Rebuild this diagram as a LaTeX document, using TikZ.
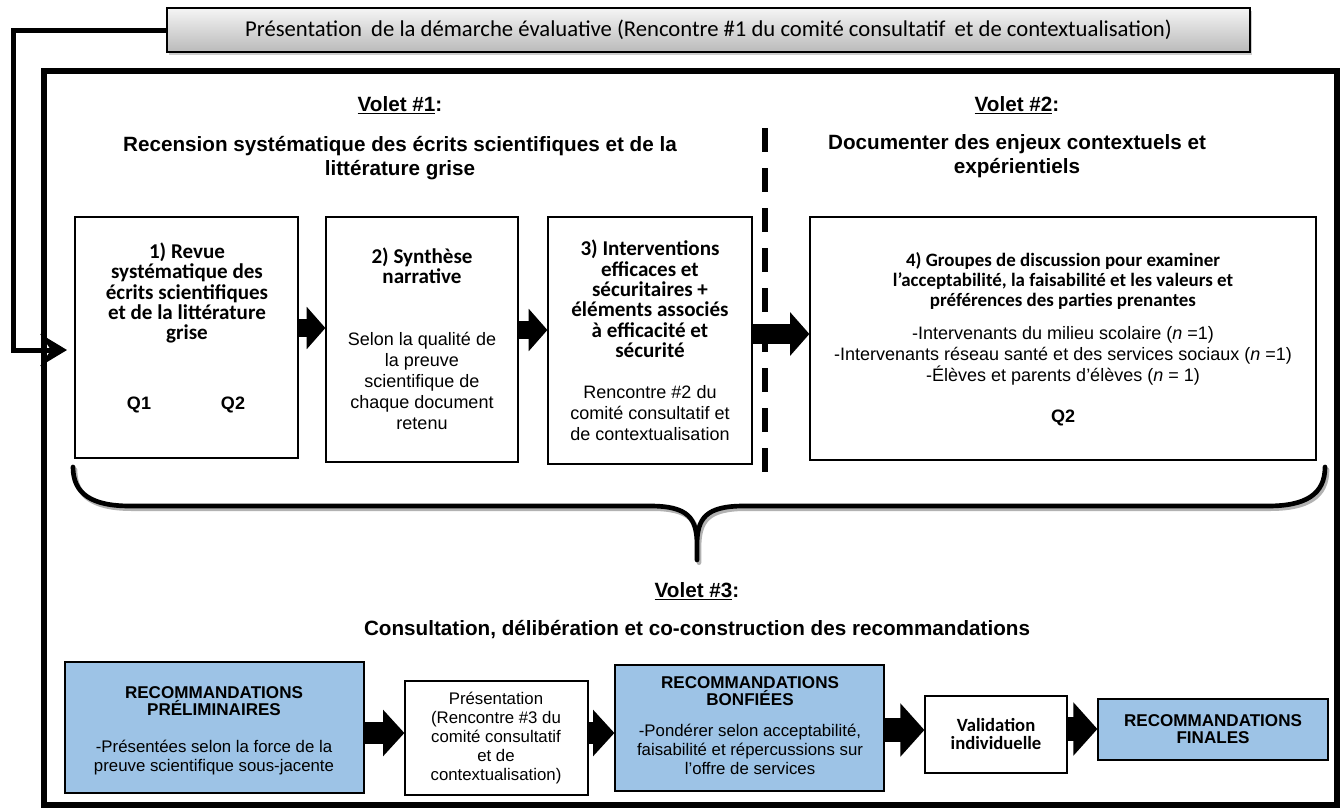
\documentclass[tikz,border=0pt]{standalone}
\usepackage{fontspec}
\setmainfont{Liberation Sans}
\newfontfamily\calfnt{Carlito}
\usetikzlibrary{arrows.meta,shadows,fit}
\definecolor{recblue}{RGB}{157,195,230}
\begin{document}
\begin{tikzpicture}[x=0.75pt,y=-0.75pt,
  box/.style={draw, line width=0.9pt, fill=white, inner sep=0pt, drop shadow={shadow xshift=1pt, shadow yshift=-1pt, opacity=0.35}},
  bluebox/.style={box, fill=recblue},
  topbar/.style={draw, line width=0.9pt, inner sep=0pt, top color=black!4, bottom color=black!27, drop shadow={shadow xshift=1.5pt, shadow yshift=-2pt, opacity=0.4}},
  head/.style={align=center, inner sep=0pt, font=\bfseries\fontsize{15.5}{18}\selectfont},
  bt/.style={align=center, inner sep=0pt, font=\fontsize{13.5}{15.6}\selectfont},
  btb/.style={align=center, inner sep=0pt, font=\bfseries\fontsize{13.5}{15.2}\selectfont},
  calb/.style={align=center, inner sep=0pt, font=\calfnt\bfseries\fontsize{15.8}{15.3}\selectfont},
  calm/.style={align=center, inner sep=0pt, font=\calfnt\bfseries\fontsize{14.2}{15}\selectfont},
  calv/.style={align=center, inner sep=0pt, font=\calfnt\bfseries\fontsize{14}{13.5}\selectfont},
  st/.style={align=center, inner sep=0pt, font=\fontsize{12.6}{14.3}\selectfont},
  stb/.style={align=center, inner sep=0pt, font=\bfseries\fontsize{12.8}{13.3}\selectfont},
  barrs/.style={line width=14pt, -{Triangle[length=14pt,width=31pt]}},
  barrm/.style={line width=14.5pt, -{Triangle[length=14.5pt,width=32pt]}},
  barrk/.style={line width=17pt, -{Triangle[length=16pt,width=34pt]}},
  barrl/.style={line width=18pt, -{Triangle[length=18pt,width=39pt]}},
  conn/.style={line width=3.75pt, -{Stealth[length=20pt,width=24pt,inset=8pt]}},
  bracestyle/.style={line width=3.5pt, line cap=round}
]
\useasboundingbox (0,0) rectangle (1341,810);

% top bar
\node[topbar, fit={(167,8)(1250,52)}] (top) {};
\node[inner sep=0pt, font=\calfnt\fontsize{17}{20}\selectfont] (toptxt) at (top.center)
  {Présentation\hspace{3pt} de la démarche évaluative (Rencontre \#1 du comité consultatif\hspace{3pt} et de contextualisation)};

% outer frame
\node[draw, line width=4.5pt, inner sep=0pt, fit={(44,71)(1337,805)}] (frame) {};

% connector from top bar
\coordinate (lc) at (13,350);
\coordinate (in1) at (67,350);
\draw[conn] (top.west) -| (lc) -- (in1);

% headings
\node[head] (v1) at (400,105) {\underline{Volet \#1}:};
\node[head] (v1s) at (400,158) {Recension systématique des écrits scientifiques et de la\\littérature grise};
\node[head] (v2) at (1017,105) {\underline{Volet \#2}:};
\node[head] (v2s) at (1017,156) {Documenter des enjeux contextuels et\\expérientiels};

% dashed separator
\draw[line width=4pt, dash pattern=on 18pt off 12pt] (765,128) -- (765,482);

% boxes row 1
\node[box, fit={(75,217)(298,458)}] (b1) {};
\node[box, fit={(326,217)(518,462)}] (b2) {};
\node[box, fit={(548,217)(752,464)}] (b3) {};
\node[box, fit={(810,217)(1316,460)}] (b4) {};

\node[calb] (b1t) at (187,293) {1) Revue\\systématique des\\écrits scientifiques\\et de la littérature\\grise};
\node[btb] (q1) at (139,405) {Q1};
\node[btb] (q2a) at (233,405) {Q2};

\node[calb] (b2t) at (422,266) {2) Synthèse\\narrative};
\node[bt] (b2b) at (422,381) {Selon la qualité de\\la preuve\\scientifique de\\chaque document\\retenu};

\node[calb] (b3t) at (650,299) {3) Interventions\\efficaces et\\sécuritaires +\\éléments associés\\à efficacité et\\sécurité};
\node[bt] (b3b) at (650,413) {Rencontre \#2 du\\comité consultatif et\\de contextualisation};

\node[calm] (b4t) at (1063,281) {4) Groupes de discussion pour examiner\\l’acceptabilité, la faisabilité et les valeurs et\\préférences des parties prenantes};
\node[bt] (b4b) at (1063,356) {-Intervenants du milieu scolaire (\textit{n} =1)\\-Intervenants réseau santé et des services sociaux (\textit{n} =1)\\-Élèves et parents d’élèves (\textit{n} = 1)};
\node[btb] (q2b) at (1063,418) {Q2};

% block arrows row 1
\coordinate (ya) at (0,328);
\coordinate (yb) at (0,330);
\coordinate (yz) at (0,334);
\draw[barrs] (b1.east|-ya) -- (b2.west|-ya);
\draw[barrs] (b2.east|-yb) -- (b3.west|-yb);
\draw[barrm] (b3.east|-yz) -- (b4.west|-yz);

% brace
\begin{scope}[xshift=1.5pt, yshift=-2pt]
\draw[bracestyle, black!30] (73,467) .. controls (73,494) and (92,506) .. (130,506) -- (650,506) .. controls (688,506) and (697,518) .. (697,545) -- (697,560)
  (697,560) -- (697,545) .. controls (697,518) and (706,506) .. (744,506) -- (1268,506) .. controls (1306,506) and (1325,494) .. (1325,467);
\end{scope}
\draw[bracestyle] (73,467) .. controls (73,494) and (92,506) .. (130,506) -- (650,506) .. controls (688,506) and (697,518) .. (697,545) -- (697,560)
  (697,560) -- (697,545) .. controls (697,518) and (706,506) .. (744,506) -- (1268,506) .. controls (1306,506) and (1325,494) .. (1325,467);

% Volet 3
\node[head] (v3) at (697,591) {\underline{Volet \#3}:};
\node[head] (v3s) at (697,630) {Consultation, délibération et co-construction des recommandations};

% bottom row
\node[bluebox, fit={(65,662)(364,793)}] (c1) {};
\node[box, fit={(405,681)(588,795)}] (c2) {};
\node[bluebox, fit={(615,665)(884,791)}] (c3) {};
\node[box, fit={(925,696)(1067,773)}] (c4) {};
\node[bluebox, fit={(1098,699)(1328,760)}] (c5) {};

\node[stb] (c1t) at (214,701) {RECOMMANDATIONS\\PRÉLIMINAIRES};
\node[st] (c1b) at (214,758) {-Présentées selon la force de la\\preuve scientifique sous-jacente};
\node[st] (c2t) at (496,738) {Présentation\\(Rencontre \#3 du\\comité consultatif\\et de\\contextualisation)};
\node[stb] (c3t) at (750,691) {RECOMMANDATIONS\\BONFIÉES};
\node[st] (c3b) at (750,749) {-Pondérer selon acceptabilité,\\faisabilité et répercussions sur\\l’offre de services};
\node[calv] (c4t) at (996,734) {Validation\\individuelle};
\node[stb] (c5t) at (1213,729) {RECOMMANDATIONS\\FINALES};

\coordinate (yc) at (0,733);
\coordinate (yd) at (0,730);
\coordinate (ye) at (0,729);
\draw[barrk] (c1.east|-yc) -- (c2.west|-yc);
\draw[barrk] (c2.east|-yc) -- (c3.west|-yc);
\draw[barrl] (c3.east|-yd) -- (c4.west|-yd);
\draw[barrl] (c4.east|-ye) -- (c5.west|-ye);
\end{tikzpicture}
\end{document}
